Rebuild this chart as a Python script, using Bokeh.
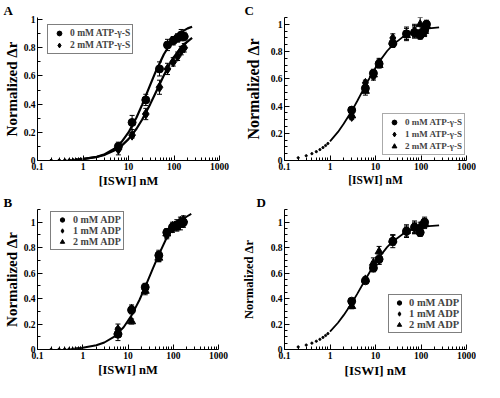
from bokeh.plotting import figure
from bokeh.models import (ColumnDataSource, Whisker, TeeHead, Legend, LegendItem,
                          FixedTicker, CustomJSTickFormatter, Range1d)
from bokeh.layouts import column, row
from bokeh.embed import file_html
from bokeh.resources import INLINE

FONT = "Liberation Serif"

# ---------------- shared axis text ----------------
x_ticks = [0.1, 1, 10, 100, 1000]
x_tick_labels = ["0.1", "1", "10", "100", "1000"]
y_ticks = [0, 0.2, 0.4, 0.6, 0.8, 1.0]
y_tick_labels = ["0", "0.2", "0.4", "0.6", "0.8", "1"]
x_title = "[ISWI] nM"
y_title = "Normalized \u0394r"
panel_letters = ["A", "B", "C", "D"]

# ---------------- Panel A : ATP-gamma-S ----------------
A_labels = ["0 mM ATP-\u03b3-S", "2 mM ATP-\u03b3-S"]
A_x = [6, 12, 24, 48, 72, 96, 120, 144, 168]
A0_y = [0.10, 0.27, 0.43, 0.65, 0.82, 0.85, 0.87, 0.89, 0.88]
A0_err = [0.03, 0.05, 0.04, 0.05, 0.04, 0.03, 0.03, 0.04, 0.03]
A2_y = [0.08, 0.18, 0.33, 0.52, 0.65, 0.70, 0.74, 0.78, 0.80]
A2_err = [0.04, 0.02, 0.04, 0.05, 0.04, 0.03, 0.03, 0.03, 0.03]
A_fit_low_x = [0.2, 0.3, 0.4, 0.5, 0.6, 0.7, 0.8, 0.9]
A0_fit_low_y = [0.001, 0.002, 0.003, 0.004, 0.005, 0.006, 0.007, 0.009]
A2_fit_low_y = [0.001, 0.002, 0.003, 0.004, 0.005, 0.007, 0.008, 0.010]
A_fit_x = [1, 2, 3, 5, 7, 10, 15, 20, 30, 40, 60, 80, 100, 150, 200, 250]
A0_fit_y = [0.010, 0.026, 0.044, 0.086, 0.131, 0.199, 0.305, 0.397, 0.537, 0.634,
            0.754, 0.820, 0.862, 0.915, 0.938, 0.950]
A2_fit_y = [0.011, 0.025, 0.040, 0.072, 0.104, 0.152, 0.225, 0.291, 0.400, 0.485,
            0.605, 0.684, 0.735, 0.810, 0.845, 0.870]

# ---------------- Panel B : ADP ----------------
B_labels = ["0 mM ADP", "1 mM ADP", "2 mM ADP"]
B_x = [6, 12, 24, 48, 72, 96, 120, 144, 168]
B0_y = [0.12, 0.31, 0.49, 0.74, 0.92, 0.96, 0.98, 0.99, 1.00]
B0_err = [0.05, 0.03, 0.03, 0.04, 0.03, 0.03, 0.04, 0.03, 0.03]
B1_y = [0.16, 0.32, 0.47, 0.73, 0.90, 0.95, 0.97, 1.01, 0.99]
B1_err = [0.04, 0.03, 0.03, 0.04, 0.03, 0.03, 0.03, 0.03, 0.03]
B2_y = [0.14, 0.22, 0.46, 0.72, 0.91, 0.97, 0.96, 0.98, 1.02]
B2_err = [0.03, 0.02, 0.03, 0.03, 0.03, 0.03, 0.03, 0.04, 0.03]
B_fit_low_x = [0.2, 0.3, 0.4, 0.5, 0.6, 0.7, 0.8, 0.9]
B_fit_low_y = [0.002, 0.003, 0.004, 0.005, 0.006, 0.008, 0.009, 0.011]
B_fit_x = [1, 2, 3, 5, 8, 12, 18, 24, 35, 48, 72, 100, 150, 200, 250]
B_fit_y = [0.014, 0.033, 0.055, 0.102, 0.175, 0.268, 0.391, 0.492, 0.632, 0.745,
           0.880, 0.955, 1.015, 1.045, 1.065]

# ---------------- Panel C : ATP-gamma-S ----------------
C_labels = ["0 mM ATP-\u03b3-S", "1 mM ATP-\u03b3-S", "2 mM ATP-\u03b3-S"]
C_x = [3, 6, 9, 12, 24, 48, 72, 96, 120, 132]
C0_y = [0.37, 0.53, 0.64, 0.71, 0.86, 0.93, 0.94, 0.92, 0.96, 1.00]
C0_err = [0.02, 0.03, 0.03, 0.03, 0.03, 0.04, 0.04, 0.03, 0.04, 0.03]
C1_y = [0.32, 0.57, 0.62, 0.72, 0.90, 0.93, 0.95, 0.93, 0.94, 0.98]
C1_err = [0.02, 0.02, 0.03, 0.03, 0.03, 0.05, 0.05, 0.03, 0.03, 0.03]
C2_y = [0.33, 0.51, 0.63, 0.70, 0.87, 0.92, 0.95, 1.00, 0.95, 0.99]
C2_err = [0.02, 0.03, 0.03, 0.02, 0.03, 0.03, 0.04, 0.05, 0.03, 0.03]
C_fit_low_x = [0.2, 0.3, 0.4, 0.5, 0.6, 0.7, 0.8, 0.9]
C_fit_low_y = [0.020, 0.035, 0.050, 0.065, 0.080, 0.095, 0.110, 0.125]
C_fit_x = [1, 1.5, 2, 3, 4, 6, 8, 12, 18, 24, 40, 60, 100, 150, 250]
C_fit_y = [0.140, 0.210, 0.270, 0.363, 0.439, 0.550, 0.626, 0.724, 0.804, 0.849,
           0.908, 0.939, 0.958, 0.970, 0.978]

# ---------------- Panel D : ADP ----------------
D_labels = ["0 mM ADP", "1 mM ADP", "2 mM ADP"]
D_x = [3, 6, 9, 12, 24, 48, 72, 96, 120]
D0_y = [0.38, 0.54, 0.64, 0.71, 0.85, 0.93, 0.96, 0.92, 1.00]
D0_err = [0.02, 0.02, 0.03, 0.04, 0.05, 0.05, 0.05, 0.03, 0.04]
D1_y = [0.36, 0.55, 0.66, 0.70, 0.86, 0.92, 0.95, 0.92, 0.99]
D1_err = [0.02, 0.02, 0.03, 0.03, 0.04, 0.04, 0.04, 0.03, 0.03]
D2_y = [0.34, 0.55, 0.68, 0.77, 0.86, 0.93, 0.96, 0.97, 0.99]
D2_err = [0.02, 0.02, 0.04, 0.04, 0.04, 0.04, 0.04, 0.03, 0.04]
D_fit_low_x = [0.2, 0.3, 0.4, 0.5, 0.6, 0.7, 0.8, 0.9]
D_fit_low_y = [0.020, 0.035, 0.050, 0.065, 0.080, 0.095, 0.110, 0.125]
D_fit_x = [1, 1.5, 2, 3, 4, 6, 8, 12, 18, 24, 40, 60, 100, 150, 250]
D_fit_y = [0.140, 0.210, 0.270, 0.363, 0.439, 0.550, 0.626, 0.724, 0.804, 0.849,
           0.908, 0.939, 0.958, 0.970, 0.976]

x_minor = [m * 10.0 ** e for e in range(-1, 3) for m in range(2, 10)]


def fmt(ticks, labels):
    return CustomJSTickFormatter(
        args=dict(t=ticks, l=labels),
        code="const i = t.findIndex(v => Math.abs(v - tick) < 1e-9 * Math.max(1, Math.abs(tick)));"
             " return i >= 0 ? l[i] : '';")


def make_panel(letter, series, curves, g):
    p = figure(width=g["w"], height=g["h"], x_axis_type="log",
               x_range=Range1d(0.1, 1000), y_range=Range1d(0, g["ymax"]),
               output_backend="svg", toolbar_location=None,
               min_border_left=g["l"], min_border_right=g["r"],
               min_border_top=g["t"], min_border_bottom=g["b"])
    p.outline_line_color = None
    p.grid.visible = False
    xa = p.xaxis[0]
    ya = p.yaxis[0]
    xa.ticker = FixedTicker(ticks=x_ticks, minor_ticks=x_minor)
    xa.formatter = fmt(x_ticks, x_tick_labels)
    ya.ticker = FixedTicker(ticks=y_ticks,
                            minor_ticks=[k * g["ystep"] for k in range(int(g["ymax"] / g["ystep"]) + 1)])
    ya.formatter = fmt(y_ticks, y_tick_labels)
    for ax in (xa, ya):
        ax.axis_line_color = "black"
        ax.major_tick_in = 5
        ax.major_tick_out = 0
        ax.minor_tick_in = 3
        ax.minor_tick_out = 0
        ax.major_label_text_font = FONT
        ax.major_label_text_font_style = "bold"
        ax.major_label_text_font_size = g["tick_fs"]
        ax.major_label_text_color = "black"
        ax.axis_label_text_font = FONT
        ax.axis_label_text_font_style = "bold"
        ax.axis_label_text_color = "black"
    xa.major_label_standoff = 2
    ya.major_label_standoff = 2
    xa.axis_label = x_title
    xa.axis_label_text_font_size = g["xlab_fs"]
    xa.axis_label_standoff = 1
    ya.axis_label = y_title
    ya.axis_label_text_font_size = g["ylab_fs"]
    ya.axis_label_standoff = g["ylab_so"]

    # fitted curves: sparse dots at low concentration, continuous line above
    for lx, ly, fx, fy, lw in curves:
        p.scatter(lx, ly, marker="circle", size=2.2, color="black")
        p.line(fx, fy, line_width=lw, color="black")

    items = []
    for label, marker, size, xs, ys, err in series:
        src = ColumnDataSource(dict(x=xs, y=ys,
                                    lo=[a - b for a, b in zip(ys, err)],
                                    hi=[a + b for a, b in zip(ys, err)]))
        p.add_layout(Whisker(source=src, base="x", lower="lo", upper="hi",
                             line_color="black", line_width=1,
                             upper_head=TeeHead(size=5, line_color="black", line_width=1),
                             lower_head=TeeHead(size=5, line_color="black", line_width=1)))
        r = p.scatter("x", "y", source=src, marker=marker, size=size, color="black")
        items.append(LegendItem(label=label, renderers=[r]))

    lg = Legend(items=items, location=g["leg_loc"], orientation="vertical",
                label_text_font=FONT, label_text_font_style="bold",
                label_text_font_size=g["leg_fs"], label_height=g["leg_row"],
                glyph_height=g["leg_row"], glyph_width=g["leg_gw"], label_standoff=2,
                padding=2, spacing=0, margin=0,
                border_line_color=g["leg_border"], border_line_width=1,
                background_fill_color="white", background_fill_alpha=1)
    p.add_layout(lg)

    # panel letter: a title placed above the frame, shifted left onto the axis area
    p.title.text = letter
    p.title.align = "left"
    p.title.offset = g["let_off"]
    p.title.standoff = 0
    p.title.text_font = FONT
    p.title.text_font_style = "bold"
    p.title.text_font_size = "13px"
    p.title.text_color = "black"
    return p


pA = make_panel(
    panel_letters[0],
    [(A_labels[0], "circle", 8, A_x, A0_y, A0_err),
     (A_labels[1], "diamond", 10, A_x, A2_y, A2_err)],
    [(A_fit_low_x, A0_fit_low_y, A_fit_x, A0_fit_y, 2.2),
     (A_fit_low_x, A2_fit_low_y, A_fit_x, A2_fit_y, 2.2)],
    dict(w=238, h=192, ymax=1.015, ystep=0.1, l=29, r=19, t=0, b=32,
         tick_fs="9.5px", xlab_fs="12.5px", ylab_fs="15px", ylab_so=1,
         let_off=-34, leg_loc=(10, 106), leg_fs="9.5px", leg_row=12, leg_gw=18,
         leg_border="black"))

pC = make_panel(
    panel_letters[2],
    [(C_labels[0], "circle", 8, C_x, C0_y, C0_err),
     (C_labels[1], "diamond", 9, C_x, C1_y, C1_err),
     (C_labels[2], "triangle", 8, C_x, C2_y, C2_err)],
    [(C_fit_low_x, C_fit_low_y, C_fit_x, C_fit_y, 1.8)],
    dict(w=238, h=192, ymax=1.05, ystep=0.05, l=46, r=10, t=0, b=32,
         tick_fs="9.5px", xlab_fs="11.5px", ylab_fs="16px", ylab_so=6,
         let_off=-40, leg_loc=(98, 5), leg_fs="9px", leg_row=12, leg_gw=18,
         leg_border="#555555"))

pB = make_panel(
    panel_letters[1],
    [(B_labels[0], "circle", 8, B_x, B0_y, B0_err),
     (B_labels[1], "diamond", 9, B_x, B1_y, B1_err),
     (B_labels[2], "triangle", 8, B_x, B2_y, B2_err)],
    [(B_fit_low_x, B_fit_low_y, B_fit_x, B_fit_y, 2.0)],
    dict(w=238, h=188, ymax=1.1, ystep=0.1, l=29, r=20, t=0, b=24,
         tick_fs="9.5px", xlab_fs="12.5px", ylab_fs="15px", ylab_so=1,
         let_off=-34, leg_loc=(13, 99), leg_fs="10px", leg_row=11, leg_gw=18,
         leg_border="black"))

pD = make_panel(
    panel_letters[3],
    [(D_labels[0], "circle", 8, D_x, D0_y, D0_err),
     (D_labels[1], "diamond", 8, D_x, D1_y, D1_err),
     (D_labels[2], "triangle", 8, D_x, D2_y, D2_err)],
    [(D_fit_low_x, D_fit_low_y, D_fit_x, D_fit_y, 1.8)],
    dict(w=238, h=188, ymax=1.1, ystep=0.05, l=46, r=10, t=0, b=24,
         tick_fs="9.5px", xlab_fs="13px", ylab_fs="12.5px", ylab_so=12,
         let_off=-28, leg_loc=(104, 16), leg_fs="10.5px", leg_row=11, leg_gw=16,
         leg_border="black"))

layout = column(row(pA, pC), row(pB, pD))

open("out.html", "w").write(file_html(layout, INLINE))
